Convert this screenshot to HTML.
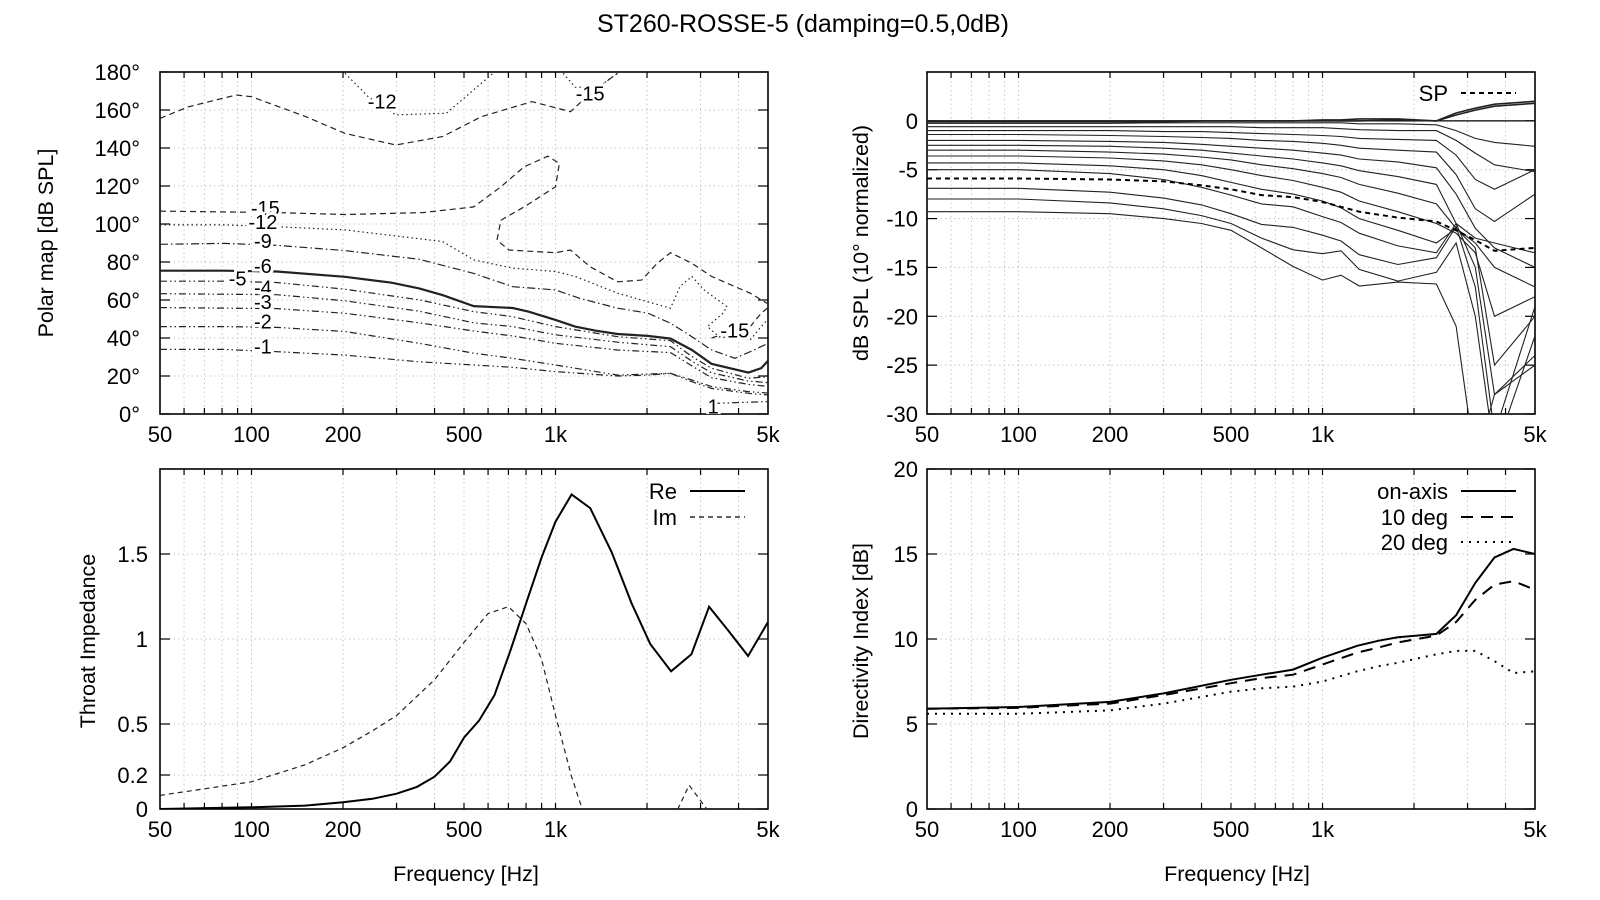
<!DOCTYPE html>
<html><head><meta charset="utf-8">
<style>
html,body{margin:0;padding:0;background:#fff;}
svg{display:block;font-family:"Liberation Sans",Arial,sans-serif;}
</style></head>
<body>
<svg id="chart" width="1600" height="900" viewBox="0 0 1600 900" xmlns="http://www.w3.org/2000/svg">
<defs>
<clipPath id="clipTL"><rect x="160" y="72" width="608" height="342"/></clipPath>
<clipPath id="clipTR"><rect x="927" y="72" width="608" height="342"/></clipPath>
<clipPath id="clipBL"><rect x="160" y="469" width="608" height="340"/></clipPath>
<clipPath id="clipBR"><rect x="927" y="469" width="608" height="340"/></clipPath>
</defs>
<text x="803" y="32" font-size="25" text-anchor="middle">ST260-ROSSE-5 (damping=0.5,0dB)</text>
<g id="root"></g>
</svg>
<script>
// ---- shared x categories ----
const xTicks = [50,100,200,500,1000,5000];
const xTickLabels = ["50","100","200","500","1k","5k"];
const gridFreqs = [60,70,80,90,100,200,300,400,500,600,700,800,900,1000,2000,3000,4000];

// ---- polar map contours [freq, degrees] ----
const contourLevels = ["-15","-12","-9","-6","-5","-4","-3","-2","-1"];
const cLevel15 = [[50,106.8],[121,106],[203,105],[366,106],[538,109],[661,119.6],[788,130.1],[943,135.7],[1030,131.9],[1000,119.6],[788,109],[661,102],[642,91.6],[702,86.3],[1000,84.9],[1120,86.3],[1300,77.5],[1600,69.6],[1920,70.5],[2160,79.3],[2390,84.9],[2810,79.3],[3260,72.4],[4370,63.6],[4750,60.1],[5000,58]];
const cLevel15b = [[3260,40],[3660,42.5],[4370,46],[4750,53],[5000,56]];
const cLevel12 = [[50,99.5],[81,99.5],[121,98.6],[203,96.9],[425,90.8],[538,81.1],[723,76.8],[1000,75],[1160,72.4],[1600,63.6],[2390,55.7],[2570,67.2],[2810,72.4],[3070,65.5],[3660,56.6],[3560,53.1],[3160,46],[3450,40.7],[4370,39],[4750,46],[5000,50]];
const cLevel9 = [[50,89.3],[81,89.8],[121,88.8],[203,86],[356,81.4],[538,74],[723,67],[1000,65.3],[1200,60.9],[1600,55.7],[2010,53.1],[2390,47.8],[2810,40.7],[3260,33.7],[3890,29.3],[4500,33.7],[5000,37.2]];
const cLevel6 = [[50,75.4],[81,75.4],[121,75],[203,72.2],[289,69.1],[356,66.1],[425,62.6],[538,56.8],[723,55.8],[814,53.9],[1000,49.5],[1160,46],[1350,43.9],[1600,42.1],[2010,41.1],[2390,39.7],[2810,33.7],[3260,26.4],[4310,21.8],[4750,24.1],[5000,28]];
const cLevel5 = [[50,69.9],[81,69.9],[121,69.2],[203,65.7],[356,60.1],[538,53.9],[723,51.2],[1000,46],[1600,40.7],[2390,38.6],[2810,30.2],[3260,24.1],[4310,18.8],[5000,19.7]];
const cLevel4 = [[50,63.3],[121,62.8],[203,59.6],[356,54.1],[538,48],[723,46],[1000,41.7],[1600,37.8],[2390,35.4],[2810,27.8],[3260,21.7],[4310,17.3],[5000,16.5]];
const cLevel3 = [[50,56],[121,55.5],[203,53],[356,48],[538,43.7],[723,41.1],[1000,37.2],[1600,33.7],[2390,32.3],[2810,25.3],[3260,19.1],[4310,15.6],[5000,14.5]];
const cLevel2 = [[50,46],[81,46],[121,45.6],[203,43.4],[356,37.2],[538,32],[723,29.3],[1000,25.8],[1600,20.5],[2390,21.4],[2810,17.9],[3260,14.4],[4310,11.8],[5000,11]];
const cLevel1 = [[50,34],[81,34],[121,32.8],[203,31],[356,27.5],[538,25.8],[723,24.6],[1000,22.3],[1600,20],[2010,20.5],[2390,21.4],[2810,17],[3260,13.5],[4310,10.9],[5000,10]];
const cLevel1b = [[3300,5.6],[5000,6.5]];
const cTopDashed = [[50,155.6],[62,161.7],[89,167.9],[100,167],[151,156.5],[203,147.7],[298,141.6],[425,146],[570,156.5],[837,164.4],[1120,159.1],[1300,168.8],[1600,179.3]];
const cTopDotted = [[203,179.3],[242,167],[298,157.4],[438,158.3],[623,179.3]];
const cTopDotted2 = [[1060,179.3],[1160,172],[1380,172],[1600,179.3]];
const contourLabels = [["-12",269,164.4],["-15",1300,168.8],["-15",111,108.5],["-12",109,101],["-9",109,91],["-6",109,78],["-5",90,71.4],["-4",109,66.5],["-3",109,59],["-2",109,48.8],["-1",109,35.5],["-15",3890,44],["1",3300,4]];

// ---- polar response curves (dB) ----
const prFreqs = [50,100,200,300,400,500,630,800,1000,1150,1320,1770,2370,2750,3180,3680,5000];
const prCurves = [
 [0,0,0,0,0,0,0,0,0,0,0,0.1,0,0.8,1.3,1.7,2.0],
 [-0.1,-0.1,-0.1,-0.1,0,0,0,0,0.1,0.1,0.2,0.2,0,0.6,1.1,1.5,1.8],
 [-0.25,-0.25,-0.25,-0.2,-0.2,-0.2,-0.2,-0.2,-0.2,-0.2,-0.3,-0.3,-0.4,-1.0,-1.8,-2.2,-2.6],
 [-0.6,-0.6,-0.6,-0.6,-0.6,-0.6,-0.7,-0.7,-0.7,-0.8,-0.9,-1.0,-1.0,-2.0,-3.3,-4.5,-5.2],
 [-1.0,-1.0,-1.0,-1.1,-1.1,-1.2,-1.3,-1.4,-1.5,-1.6,-1.8,-1.9,-2.0,-3.5,-6.0,-7.0,-5.0],
 [-1.4,-1.4,-1.5,-1.6,-1.7,-1.8,-2.0,-2.1,-2.3,-2.5,-2.8,-3.0,-3.2,-5.5,-9.0,-10.3,-7.5],
 [-2.0,-2.0,-2.1,-2.2,-2.4,-2.6,-2.8,-3.0,-3.3,-3.5,-3.9,-4.2,-4.8,-7.5,-11.0,-13.0,-15.0],
 [-2.5,-2.5,-2.6,-2.8,-3.0,-3.3,-3.6,-3.9,-4.3,-4.6,-5.1,-5.7,-6.5,-10.5,-12.0,-12.5,-13.5],
 [-3.0,-3.0,-3.2,-3.4,-3.7,-4.0,-4.5,-4.9,-5.4,-5.8,-6.5,-7.4,-8.5,-11.0,-12.5,-15.0,-17.0],
 [-3.6,-3.6,-3.8,-4.1,-4.5,-5.0,-5.6,-6.1,-6.8,-7.3,-8.2,-9.3,-10.5,-11.5,-13.5,-20.0,-18.0],
 [-4.3,-4.3,-4.6,-5.0,-5.6,-6.3,-7.0,-7.5,-8.2,-8.9,-10.0,-11.2,-12.5,-11.0,-13.0,-25.0,-20.0],
 [-5.0,-5.0,-5.4,-6.0,-6.8,-7.6,-8.5,-8.8,-9.8,-10.4,-11.5,-12.8,-13.5,-10.5,-15.0,-28.0,-24.0],
 [-6.9,-6.9,-7.3,-7.9,-8.6,-9.5,-10.6,-10.9,-11.7,-12.3,-13.7,-14.7,-14.0,-10.8,-17.0,-32,-19.0],
 [-8.0,-8.0,-8.4,-9.0,-9.7,-10.5,-12.0,-13.2,-13.6,-13.3,-15.2,-16.4,-15.5,-12.5,-20.0,-34,-22.0],
 [-9.3,-9.3,-9.5,-10.0,-10.5,-11.2,-13.0,-14.9,-16.3,-15.8,-16.9,-16.5,-16.7,-21.0,-35,-28,-25.0]
];
const spValues = [-5.9,-5.9,-6.0,-6.2,-6.6,-7.0,-7.6,-7.8,-8.3,-8.8,-9.3,-9.9,-10.3,-11.2,-12.2,-13.3,-13.0];

// ---- throat impedance ----
const reFreqs = [50,100,150,200,250,300,350,400,450,500,560,630,710,800,900,1000,1130,1300,1530,1780,2050,2400,2800,3200,3700,4300,5000];
const reValues = [0,0.01,0.02,0.04,0.06,0.09,0.13,0.19,0.28,0.42,0.52,0.67,0.93,1.21,1.48,1.69,1.85,1.77,1.51,1.21,0.97,0.81,0.91,1.19,1.05,0.9,1.1];
const imFreqs = [50,100,150,200,250,300,400,500,600,700,800,900,1000,1130,1250,2000,2450,2750,3300];
const imValues = [0.08,0.16,0.26,0.36,0.46,0.55,0.76,0.98,1.15,1.19,1.09,0.88,0.55,0.19,-0.05,null,-0.05,0.14,-0.05];

// ---- directivity index ----
const diFreqs = [50,100,200,300,500,630,800,1000,1300,1530,1770,2370,2750,3180,3680,4250,5000];
const diOnAxis = [5.9,6.0,6.3,6.8,7.6,7.9,8.2,8.9,9.6,9.9,10.1,10.3,11.4,13.3,14.8,15.3,15.0];
const di10deg = [5.9,5.95,6.2,6.7,7.4,7.7,7.9,8.5,9.2,9.5,9.8,10.2,11.0,12.3,13.2,13.4,12.9];
const di20deg = [5.6,5.6,5.8,6.2,6.9,7.1,7.2,7.5,8.1,8.4,8.6,9.1,9.3,9.3,8.7,8.0,8.1];

const NS = "http://www.w3.org/2000/svg";
const root = document.getElementById('root');
function el(tag, attrs, parent, txt){
  const e = document.createElementNS(NS, tag);
  for (const k in attrs) e.setAttribute(k, attrs[k]);
  if (txt !== undefined) e.textContent = txt;
  (parent||root).appendChild(e);
  return e;
}
function makePanel(x0,y0,w,h,ymin,ymax){
  return {
    x: f => x0 + w*Math.log10(f/50)/2,
    y: v => y0 + h*(ymax - v)/(ymax - ymin),
    x0,y0,w,h
  };
}
const TL = makePanel(160,72,608,342,0,180);
const TR = makePanel(927,72,608,342,-30,5);
const BL = makePanel(160,469,608,340,0,2);
const BR = makePanel(927,469,608,340,0,20);

function frame(P, name, yTicks, yLabels, ylabelX){
  const g = el('g',{});
  
  
  for (const f of gridFreqs){
    const x = P.x(f);
    const l = el('line',{x1:x,x2:x,y1:P.y0,y2:P.y0+P.h,stroke:'#c8c8c8','stroke-dasharray':'1.5,3','stroke-width':1},g);
    
    
    el('line',{x1:x,x2:x,y1:P.y0+P.h,y2:P.y0+P.h-6,stroke:'#000','stroke-width':1.2},g);
    el('line',{x1:x,x2:x,y1:P.y0,y2:P.y0+6,stroke:'#000','stroke-width':1.2},g);
  }
  yTicks.forEach((v,i)=>{
    const y = P.y(v);
    const l = el('line',{x1:P.x0,x2:P.x0+P.w,y1:y,y2:y,stroke:'#c8c8c8','stroke-dasharray':'1.5,3','stroke-width':1},g);
    
    
    el('line',{x1:P.x0,x2:P.x0+10,y1:y,y2:y,stroke:'#000','stroke-width':1.2},g);
    el('line',{x1:P.x0+P.w,x2:P.x0+P.w-10,y1:y,y2:y,stroke:'#000','stroke-width':1.2},g);
    const t = el('text',{x:ylabelX,y:y+8,'font-size':22,'text-anchor':'end'},g,yLabels[i]);
    
    
  });
  xTicks.forEach((f,i)=>{
    const t = el('text',{x:P.x(f),y:P.y0+P.h+28,'font-size':22,'text-anchor':'middle'},g,xTickLabels[i]);
    
    
  });
  const b = el('rect',{x:P.x0,y:P.y0,width:P.w,height:P.h,fill:'none',stroke:'#000','stroke-width':1.6},g);
  
  
}
frame(TL,'polar-map-panel',[0,20,40,60,80,100,120,140,160,180],["0°","20°","40°","60°","80°","100°","120°","140°","160°","180°"],140);
frame(TR,'polar-response-panel',[0,-5,-10,-15,-20,-25,-30],["0","-5","-10","-15","-20","-25","-30"],918);
frame(BL,'impedance-panel',[0,0.2,0.5,1,1.5],["0","0.2","0.5","1","1.5"],148);
frame(BR,'directivity-panel',[0,5,10,15,20],["0","5","10","15","20"],918);

function pathFromPairs(P, pairs){
  let d='', pen=false;
  for (const [f,v] of pairs){
    if (v===null){pen=false;continue;}
    d += (pen?'L':'M') + P.x(f).toFixed(1) + ',' + P.y(v).toFixed(1);
    pen=true;
  }
  return d;
}
function zip(fs, vs){ return fs.map((f,i)=>[f,vs[i]]); }

// --- TL contours ---
const gTL = el('g',{'clip-path':'url(#clipTL)'});
const dd = '7,3,1.5,3,1.5,3';
const contourDefs = [
  [cLevel15,'6,4',1.2,'contour-minus15'],[cLevel15b,'6,4',1.2,'contour-minus15-b'],
  [cTopDashed,'6,4',1.2,'contour-top-dashed'],
  [cLevel12,'1.5,3',1.2,'contour-minus12'],[cTopDotted,'1.5,3',1.2,'contour-top-dotted'],[cTopDotted2,'1.5,3',1.2,'contour-top-dotted-2'],
  [cLevel9,'8,3,1.5,3',1.2,'contour-minus9'],
  [cLevel6,'none',2.2,'contour-minus6'],
  [cLevel5,dd,1.2,'contour-minus5'],[cLevel4,dd,1.2,'contour-minus4'],[cLevel3,dd,1.2,'contour-minus3'],
  [cLevel2,dd,1.2,'contour-minus2'],[cLevel1,dd,1.2,'contour-minus1'],[cLevel1b,dd,1.2,'contour-1-b']
];
for (const [pts,dash,sw,name] of contourDefs){
  const p = el('path',{d:pathFromPairs(TL,pts),fill:'none',stroke:'#222','stroke-width':sw,'stroke-dasharray':dash},gTL);
  
  
}
for (const [txt,f,v] of contourLabels){
  const t = el('text',{x:TL.x(f),y:TL.y(v)+7,'font-size':20,'text-anchor':'middle',stroke:'#fff','stroke-width':6,'paint-order':'stroke'},gTL,txt);
  
  
}

// --- TR curves ---
const gTR = el('g',{'clip-path':'url(#clipTR)'});
const zl = el('line',{x1:TR.x0,x2:TR.x0+TR.w,y1:TR.y(0),y2:TR.y(0),stroke:'#000','stroke-width':1.2},gTR);


prCurves.forEach((vals,i)=>{
  const p = el('path',{d:pathFromPairs(TR,zip(prFreqs,vals)),fill:'none',stroke:'#222','stroke-width':i<2?1.6:1.1},gTR);
  
  
});
const sp = el('path',{d:pathFromPairs(TR,zip(prFreqs,spValues)),fill:'none',stroke:'#000','stroke-width':2,'stroke-dasharray':'5,4'},gTR);



// --- BL impedance ---
const gBL = el('g',{'clip-path':'url(#clipBL)'});
const re = el('path',{d:pathFromPairs(BL,zip(reFreqs,reValues)),fill:'none',stroke:'#000','stroke-width':2},gBL);


const im = el('path',{d:pathFromPairs(BL,zip(imFreqs,imValues)),fill:'none',stroke:'#222','stroke-width':1.2,'stroke-dasharray':'5,4'},gBL);



// --- BR directivity ---
const gBR = el('g',{'clip-path':'url(#clipBR)'});
const d0 = el('path',{d:pathFromPairs(BR,zip(diFreqs,diOnAxis)),fill:'none',stroke:'#000','stroke-width':2},gBR);


const d10 = el('path',{d:pathFromPairs(BR,zip(diFreqs,di10deg)),fill:'none',stroke:'#000','stroke-width':2,'stroke-dasharray':'12,8'},gBR);


const d20 = el('path',{d:pathFromPairs(BR,zip(diFreqs,di20deg)),fill:'none',stroke:'#000','stroke-width':2,'stroke-dasharray':'2,6'},gBR);



// --- legends ---
function legend(name,label,x,y,dash,sw){
  const g = el('g',{});
  
  
  el('text',{x:x,y:y+8,'font-size':22,'text-anchor':'end'},g,label);
  el('line',{x1:x+13,x2:x+68,y1:y,y2:y,stroke:'#000','stroke-width':sw,'stroke-dasharray':dash},g);
}
legend('legend-sp','SP',1448,93,'5,4',2);
legend('legend-re','Re',677,491,'none',2);
legend('legend-im','Im',677,517,'5,4',1.2);
legend('legend-on-axis','on-axis',1448,491,'none',2);
legend('legend-10-deg','10 deg',1448,517,'12,8',2);
legend('legend-20-deg','20 deg',1448,542,'2,6',2);

// --- axis titles ---
function axisTitle(name,txt,x,y,rot){
  const t = el('text',{x:x,y:y,'font-size':21.5,'text-anchor':'middle',transform:rot?`rotate(-90 ${x} ${y})`:''},root,txt);
  
  
}
axisTitle('polar-map-y-title','Polar map [dB SPL]',53,243,true);
axisTitle('impedance-y-title','Throat Impedance',95,641,true);
axisTitle('polar-response-y-title','dB SPL (10° normalized)',868,243,true);
axisTitle('directivity-y-title','Directivity Index [dB]',868,641,true);
axisTitle('impedance-x-title','Frequency [Hz]',466,881,false);
axisTitle('directivity-x-title','Frequency [Hz]',1237,881,false);
</script>
</body></html>
